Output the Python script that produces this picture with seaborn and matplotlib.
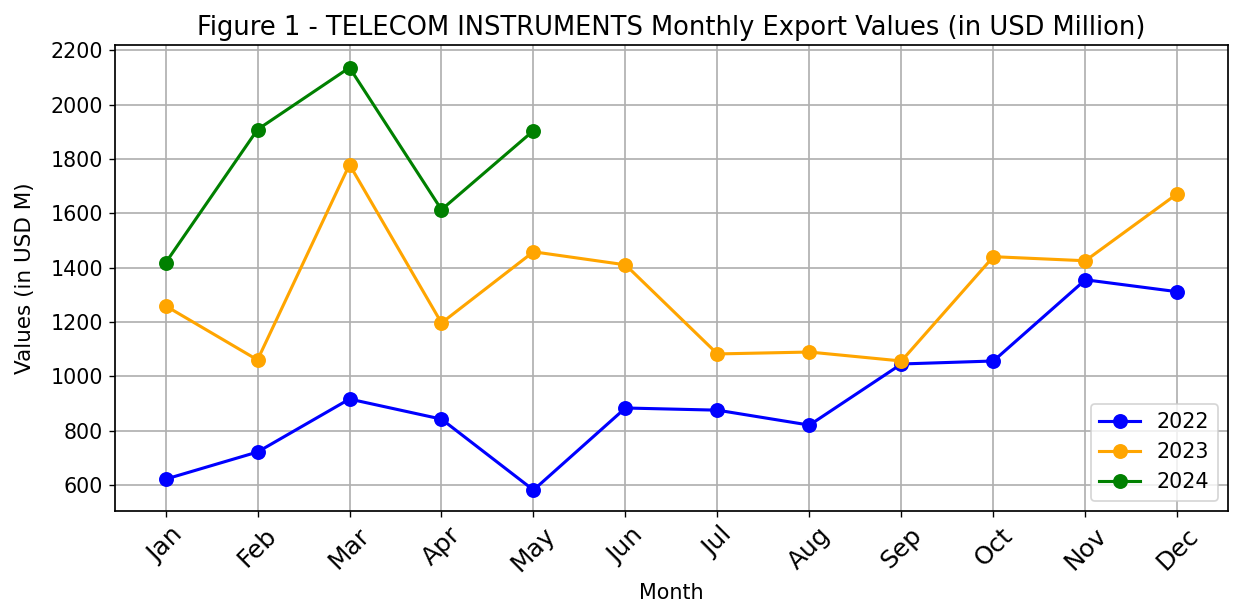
import matplotlib
matplotlib.use("Agg")
import matplotlib.pyplot as plt
import seaborn as sns
import pandas as pd

months = ["Jan", "Feb", "Mar", "Apr", "May", "Jun", "Jul", "Aug", "Sep", "Oct", "Nov", "Dec"]
v2022 = [622, 722, 917, 843, 582, 884, 876, 821, 1046, 1057, 1356, 1312]
v2023 = [1260, 1061, 1780, 1197, 1459, 1411, 1083, 1090, 1057, 1441, 1426, 1673]
v2024 = [1418, 1909, 2137, 1614, 1905]

rows = []
for yr, vals in (("2022", v2022), ("2023", v2023), ("2024", v2024)):
    for m, v in zip(months, vals):
        rows.append({"Month": m, "Value": v, "Year": yr})
df = pd.DataFrame(rows)

DPI = 123.6
fig, ax = plt.subplots(figsize=(1236 / DPI, 609 / DPI), dpi=DPI)
palette = {"2022": "blue", "2023": "orange", "2024": "green"}
sns.lineplot(data=df, x="Month", y="Value", hue="Year", palette=palette,
             marker="o", markersize=8.7, markeredgewidth=0, linewidth=1.8,
             sort=False, ax=ax)
ax.set_title("Figure 1 - TELECOM INSTRUMENTS Monthly Export Values (in USD Million)", fontsize=15)
ax.set_xlabel("Month", fontsize=12)
ax.set_ylabel("Values (in USD M)", fontsize=12.5, labelpad=9)
ax.tick_params(axis="x", labelrotation=45, labelsize=14.5)
ax.tick_params(axis="y", labelsize=12)
ax.grid(True, color="#b0b0b0", linewidth=1.0)
for s in ax.spines.values():
    s.set_linewidth(1.0)
ax.set_yticks(range(600, 2201, 200))
ax.set_ylim(505, 2220)
ax.legend(loc="lower right", fontsize=12)
fig.subplots_adjust(left=0.093, right=0.9935, top=0.926, bottom=0.161)
fig.savefig("out.png", dpi=DPI)
